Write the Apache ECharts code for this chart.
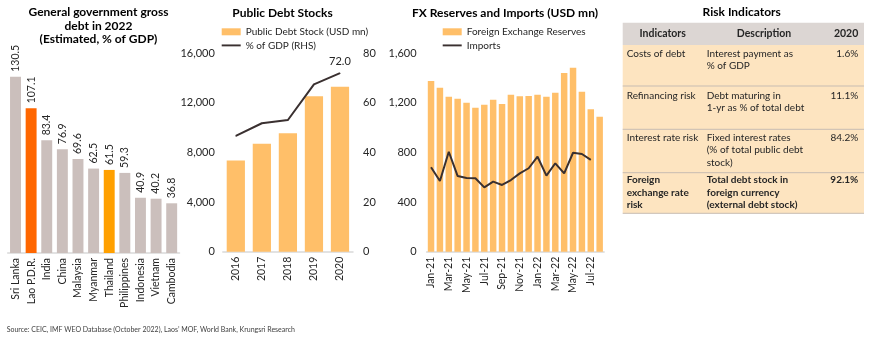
<!DOCTYPE html>
<html>
<head>
<meta charset="utf-8">
<script src="https://cdn.jsdelivr.net/npm/echarts@6/dist/echarts.min.js"></script>
<style>
  html, body { margin: 0; padding: 0; background: #ffffff; }
  #chart { width: 870px; height: 339px; }
</style>
</head>
<body>
<div id="chart"></div>
<script>
// General government gross debt, 2022 estimates (% of GDP)
const countries = ['Sri Lanka', 'Lao P.D.R.', 'India', 'China', 'Malaysia', 'Myanmar', 'Thailand', 'Philippines', 'Indonesia', 'Vietnam', 'Cambodia'];
const govDebtPct = [130.5, 107.1, 83.4, 76.9, 69.6, 62.5, 61.5, 59.3, 40.9, 40.2, 36.8];

// Lao public debt stock (USD mn) and share of GDP (%)
const debtYears = ['2016', '2017', '2018', '2019', '2020'];
const debtStock = [7350, 8700, 9560, 12540, 13310];
const debtPctGdp = [46.7, 51.8, 53.1, 67.5, 72.0];
const debtTicksLeft = [0, 4000, 8000, 12000, 16000];
const debtTicksRight = [0, 20, 40, 60, 80];

// Monthly FX reserves and imports (USD mn)
const fxMonths = ['Jan-21', 'Feb-21', 'Mar-21', 'Apr-21', 'May-21', 'Jun-21', 'Jul-21', 'Aug-21', 'Sep-21', 'Oct-21', 'Nov-21', 'Dec-21',
                  'Jan-22', 'Feb-22', 'Mar-22', 'Apr-22', 'May-22', 'Jun-22', 'Jul-22', 'Aug-22'];
const fxReserves = [1376, 1323, 1250, 1234, 1202, 1161, 1186, 1226, 1191, 1266, 1253, 1256, 1266, 1250, 1282, 1441, 1484, 1290, 1148, 1089];
const fxImports = [681, 570, 806, 610, 594, 592, 519, 565, 538, 578, 632, 673, 766, 613, 713, 632, 798, 788, 740];
const fxTicks = [0, 400, 800, 1200, 1600];

// Risk indicators table
const riskHeaders = ['Indicators', 'Description', '2020'];
const riskIndicators = [['Costs of debt'], ['Refinancing risk'], ['Interest rate risk'], ['Foreign', 'exchange rate', 'risk']];
const riskDescriptions = [
  ['Interest payment as', '% of GDP'],
  ['Debt maturing in', '1-yr as % of total debt'],
  ['Fixed interest rates', '(% of total public debt', 'stock)'],
  ['Total debt stock in', 'foreign currency', '(external debt stock)']
];
const riskValues = ['1.6%', '11.1%', '84.2%', '92.1%'];

const FONT = 'Lato, "Open Sans", "DejaVu Sans", sans-serif';
const TEXT = '#262626';
const BAR_ORANGE = '#ffbf69';
const LINE_DARK = '#3a3030';
const LINE_ICON = 'path://M0,0H20V2H0Z';
const highlight = { 'Lao P.D.R.': '#ff6600', 'Thailand': '#ffa000' };

const chart = echarts.init(document.getElementById('chart'), null, { renderer: 'canvas' });

// ---- table and headings drawn as graphic elements ----
const graphics = [];
function text(x, y, str, opts) {
  graphics.push({
    type: 'text',
    silent: true,
    style: Object.assign({
      x: x, y: y, text: str,
      fill: TEXT,
      font: '10px ' + FONT,
      align: 'left',
      verticalAlign: 'middle'
    }, opts || {})
  });
}
const titleFont = 'bold 12px ' + FONT;
text(98.5, 11.7, 'General government gross', { align: 'center', font: titleFont, fill: '#000' });
text(98.5, 25.7, 'debt in 2022', { align: 'center', font: titleFont, fill: '#000' });
text(98.5, 39.3, '(Estimated, % of GDP)', { align: 'center', font: titleFont, fill: '#000' });
text(282.5, 13, 'Public Debt Stocks', { align: 'center', font: titleFont, fill: '#000' });
text(505, 12.7, 'FX Reserves and Imports (USD mn)', { align: 'center', font: titleFont, fill: '#000' });
text(741.7, 12, 'Risk Indicators', { align: 'center', font: titleFont, fill: '#000' });

// table geometry
const tblX = 622.7, tblW = 241.3;
const headTop = 22.7, headBottom = 45;
const rowBottoms = [86, 129.3, 172.7, 213.3];
const rowFirstLine = [53.3, 95.7, 137.3, 180];
const lineStep = 12.5;
const colX = [626.7, 706.7, 858.3];

graphics.push({ type: 'rect', silent: true, shape: { x: tblX, y: headTop, width: tblW, height: headBottom - headTop }, style: { fill: '#dcd6d3' } });
graphics.push({ type: 'rect', silent: true, shape: { x: tblX, y: headBottom, width: tblW, height: rowBottoms[3] - headBottom }, style: { fill: '#fde4c0' } });
rowBottoms.forEach(function (yb) {
  graphics.push({ type: 'line', silent: true, shape: { x1: tblX, y1: yb, x2: tblX + tblW, y2: yb }, style: { stroke: '#c7bcb2', lineWidth: 1 } });
});
const headFont = 'bold 10.5px ' + FONT;
text(662.7, 34, riskHeaders[0], { align: 'center', font: headFont });
text(764, 34, riskHeaders[1], { align: 'center', font: headFont });
text(colX[2], 34, riskHeaders[2], { align: 'right', font: headFont });
for (let r = 0; r < riskValues.length; r++) {
  const f = (r === 3 ? 'bold ' : '') + '10px ' + FONT;
  riskIndicators[r].forEach(function (s, i) { text(colX[0], rowFirstLine[r] + i * lineStep, s, { font: f }); });
  riskDescriptions[r].forEach(function (s, i) { text(colX[1], rowFirstLine[r] + i * lineStep, s, { font: f }); });
  text(colX[2], rowFirstLine[r], riskValues[r], { align: 'right', font: f });
}

text(6.7, 330, 'Source: CEIC, IMF WEO Database (October 2022), Laos\u2019 MOF, World Bank, Krungsri Research', { font: '7px ' + FONT, fill: '#404040' });

const baseAxisLine = { show: true, lineStyle: { color: '#d9d9d9', width: 1.5 } };
const catLabel = { rotate: 90, fontSize: 10.5, color: TEXT, fontFamily: FONT, margin: 5 };
const valLabel = { fontSize: 11, color: TEXT, fontFamily: FONT };

const option = {
  animation: false,
  backgroundColor: '#ffffff',
  graphic: { elements: graphics },
  legend: [
    {
      left: 221.7, top: 25, orient: 'vertical', padding: 0, itemGap: 0,
      itemWidth: 19, itemHeight: 7, itemTextGap: 3,
      textStyle: { fontSize: 10, color: TEXT, fontFamily: FONT, lineHeight: 13.6 },
      data: [{ name: 'Public Debt Stock (USD mn)', icon: 'rect' }, { name: '% of GDP (RHS)', icon: LINE_ICON }]
    },
    {
      left: 442.7, top: 25, orient: 'vertical', padding: 0, itemGap: 0,
      itemWidth: 19, itemHeight: 7, itemTextGap: 3,
      textStyle: { fontSize: 10, color: TEXT, fontFamily: FONT, lineHeight: 13.6 },
      data: [{ name: 'Foreign Exchange Reserves', icon: 'rect' }, { name: 'Imports', icon: LINE_ICON }]
    }
  ],
  grid: [
    { left: 7.7, width: 171.8, top: 63.9, height: 189.1 },
    { left: 222.8, width: 130.2, top: 53.3, height: 198.4 },
    { left: 426.6, width: 177.5, top: 53.3, height: 198.4 }
  ],
  xAxis: [
    { gridIndex: 0, type: 'category', data: countries, axisLine: baseAxisLine, axisTick: { show: false }, axisLabel: catLabel },
    { gridIndex: 1, type: 'category', data: debtYears, axisLine: baseAxisLine, axisTick: { show: false }, axisLabel: catLabel },
    { gridIndex: 2, type: 'category', data: fxMonths, axisLine: baseAxisLine, axisTick: { show: false },
      axisLabel: Object.assign({}, catLabel, { interval: 1 }) }
  ],
  yAxis: [
    { gridIndex: 0, type: 'value', min: 0, max: 140, show: false, splitLine: { show: false } },
    { gridIndex: 1, type: 'value', min: debtTicksLeft[0], max: debtTicksLeft[debtTicksLeft.length - 1], interval: debtTicksLeft[1] - debtTicksLeft[0],
      axisLine: { show: false }, axisTick: { show: false }, splitLine: { show: false },
      axisLabel: Object.assign({ margin: 8, formatter: function (v) { return v.toLocaleString('en-US'); } }, valLabel) },
    { gridIndex: 1, type: 'value', position: 'right', min: debtTicksRight[0], max: debtTicksRight[debtTicksRight.length - 1], interval: debtTicksRight[1] - debtTicksRight[0],
      axisLine: { show: false }, axisTick: { show: false }, splitLine: { show: false },
      axisLabel: Object.assign({ margin: 10 }, valLabel) },
    { gridIndex: 2, type: 'value', min: fxTicks[0], max: fxTicks[fxTicks.length - 1], interval: fxTicks[1] - fxTicks[0],
      axisLine: { show: false }, axisTick: { show: false }, splitLine: { show: false },
      axisLabel: Object.assign({ margin: 10, formatter: function (v) { return v.toLocaleString('en-US'); } }, valLabel) }
  ],
  series: [
    {
      name: 'General government gross debt', type: 'bar', xAxisIndex: 0, yAxisIndex: 0,
      data: govDebtPct, barCategoryGap: '30%',
      itemStyle: { color: function (p) { return highlight[p.name] || '#cbbfbc'; } },
      label: { show: true, position: 'top', rotate: 90, align: 'left', verticalAlign: 'middle', distance: 5,
               fontSize: 10.5, color: TEXT, fontFamily: FONT, formatter: function (p) { return p.value.toFixed(1); } }
    },
    {
      name: 'Public Debt Stock (USD mn)', type: 'bar', xAxisIndex: 1, yAxisIndex: 1,
      data: debtStock, barCategoryGap: '30%', itemStyle: { color: BAR_ORANGE }
    },
    {
      name: '% of GDP (RHS)', type: 'line', xAxisIndex: 1, yAxisIndex: 2,
      // only the latest year carries a value label
      data: debtPctGdp.map(function (v, i) {
        return i === debtPctGdp.length - 1
          ? { value: v, label: { show: true, position: 'top', distance: 6, fontSize: 11, color: TEXT, fontFamily: FONT, formatter: function (p) { return p.value.toFixed(1); } } }
          : v;
      }),
      symbol: 'circle', symbolSize: 1, showSymbol: true,
      lineStyle: { color: LINE_DARK, width: 2 }, itemStyle: { color: LINE_DARK }
    },
    {
      name: 'Foreign Exchange Reserves', type: 'bar', xAxisIndex: 2, yAxisIndex: 3,
      data: fxReserves, barCategoryGap: '27%', itemStyle: { color: BAR_ORANGE }
    },
    {
      name: 'Imports', type: 'line', xAxisIndex: 2, yAxisIndex: 3,
      data: fxImports, symbol: 'none', lineStyle: { color: LINE_DARK, width: 2 }, itemStyle: { color: LINE_DARK }
    }
  ]
};
chart.setOption(option);
</script>
</body>
</html>
